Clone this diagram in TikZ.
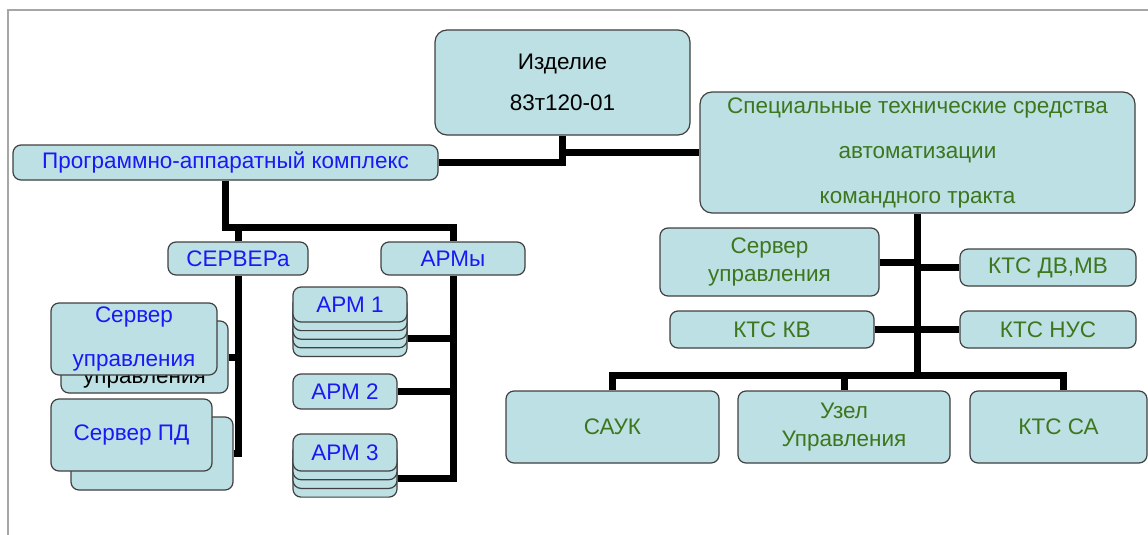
\documentclass[tikz,border=0pt]{standalone}
\usepackage{fontspec}
\setmainfont{Liberation Sans}
\usetikzlibrary{calc}
\definecolor{boxfill}{RGB}{188,224,227}
\definecolor{txtblue}{RGB}{25,25,245}
\definecolor{txtgreen}{RGB}{62,118,30}
\tikzset{
  blk/.style={draw=black!75, fill=boxfill, rounded corners=8pt, line width=1.2pt,
    inner sep=0pt, align=center, font=\fontsize{22.5}{27.5}\selectfont},
  bluebox/.style={blk, text=txtblue},
  greenbox/.style={blk, text=txtgreen},
  link/.style={line width=7pt, black}
}

\begin{document}
\begin{tikzpicture}[x=1pt,y=-1pt]
\useasboundingbox (0,0) rectangle (1148,535);
\draw[gray!70, line width=1.5pt] (8,535) -- (8,10) -- (1148,10);

% top level
\node[blk, rounded corners=12pt, minimum width=255pt, minimum height=105pt,
  font=\fontsize{22.5}{41}\selectfont] (izd) at (562.5,82.5) {Изделие\\83т120-01};
\node[bluebox, minimum width=425pt, minimum height=35pt] (pak) at (225.5,162.5)
  {Программно-аппаратный комплекс};
\node[greenbox, rounded corners=12pt, minimum width=435pt, minimum height=121pt,
  font=\fontsize{22.5}{45}\selectfont] (spec) at (917.5,152.5)
  {Специальные технические средства\\автоматизации\\командного тракта};

% left branch
\node[bluebox, minimum width=140pt, minimum height=33pt] (servers) at (238,258.5) {СЕРВЕРа};
\node[bluebox, minimum width=144pt, minimum height=33pt] (armsh) at (453,258.5) {АРМы};

\node[blk, minimum width=167pt, minimum height=72pt] (srvub) at (144.5,357) {};
\node[font=\fontsize{22.5}{27.5}\selectfont] (srvubt) at (144.5,380) {управления};
\node[bluebox, minimum width=166pt, minimum height=72pt,
  font=\fontsize{22.5}{44}\selectfont] (srvu) at (134,339) {Сервер\\управления};
\node[blk, minimum width=162pt, minimum height=73pt] (srvpdb) at (152,453.5) {};
\node[bluebox, minimum width=161pt, minimum height=72pt] (srvpd) at (131.5,435) {Сервер ПД};

\foreach \k in {4,3,2,1}
  \node[blk, minimum width=114pt, minimum height=35pt] (arm1l\k) at (350,{304.5+8.6*\k}) {};
\node[bluebox, minimum width=114pt, minimum height=35pt] (arm1) at (350,304.5) {АРМ 1};
\node[bluebox, minimum width=104pt, minimum height=35pt] (arm2) at (345,391.5) {АРМ 2};
\foreach \k in {3,2,1}
  \node[blk, minimum width=104pt, minimum height=37pt] (arm3l\k) at (345,{452.5+8.7*\k}) {};
\node[bluebox, minimum width=104pt, minimum height=37pt] (arm3) at (345,452.5) {АРМ 3};

% right branch
\node[greenbox, minimum width=219pt, minimum height=68pt] (srvu2) at (769.5,262) {Сервер\\управления};
\node[greenbox, minimum width=176pt, minimum height=37pt] (kdv) at (1048,267.5) {КТС ДВ,МВ};
\node[greenbox, minimum width=204pt, minimum height=37pt] (kkv) at (772,329.5) {КТС КВ};
\node[greenbox, minimum width=176pt, minimum height=37pt] (knus) at (1048,329.5) {КТС НУС};
\node[greenbox, minimum width=213pt, minimum height=72pt] (sauk) at (612.5,427) {САУК};
\node[greenbox, minimum width=212pt, minimum height=72pt] (uzel) at (844,427) {Узел\\Управления};
\node[greenbox, minimum width=177pt, minimum height=72pt] (ktsca) at (1058.5,427) {КТС СА};

% connectors
\draw[link] (izd.south) |- (pak.east);
\draw[link] (izd.south |- spec.west) -- (spec.west);
\draw[link] (pak.south) |- ($(armsh.north)+(0,-14)$) -- (armsh.north);
\draw[link] (servers.north) -- ++(0,-14);
\draw[link] (servers.south) |- (srvpdb.east);
\draw[link] (srvub.east) -- (srvub.east -| servers.south);
\draw[link] (armsh.south) |- (arm3l3.east);
\draw[link] (arm1l4.east) -- (arm1l4.east -| armsh.south);
\draw[link] (arm2.east) -- (arm2.east -| armsh.south);

\draw[link] (spec.south) -- ($(spec.south |- sauk.north)+(0,-15)$);
\draw[link] (srvu2.east) -- (srvu2.east -| spec.south);
\draw[link] (kdv.west) -- (kdv.west -| spec.south);
\draw[link] (kkv.east) -- (knus.west);
\draw[link] (sauk.north) |- ($(ktsca.north)+(5,-15)$) -- ($(ktsca.north)+(5,0)$);
\draw[link] (uzel.north) -- ++(0,-15);
\end{tikzpicture}
\end{document}
